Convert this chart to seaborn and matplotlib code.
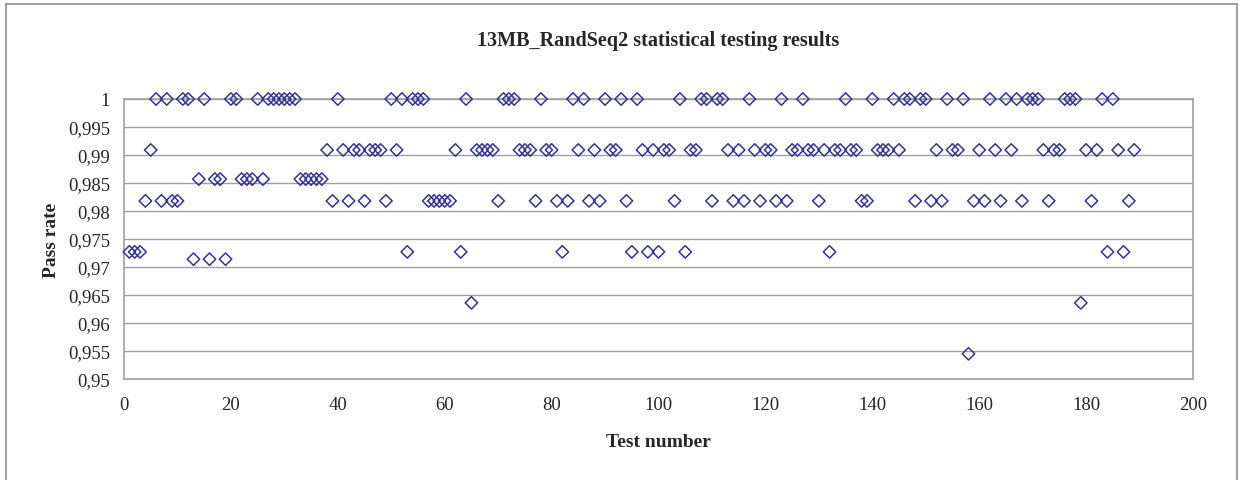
import seaborn as sns
import pandas as pd
import matplotlib.pyplot as plt
from matplotlib.patches import Rectangle

title = "13MB_RandSeq2 statistical testing results"
x_label = "Test number"
y_label = "Pass rate"

test_numbers = list(range(1, 190))
pass_rates = [
    0.9727, 0.9727, 0.9727, 0.9818, 0.9909, 1, 0.9818, 1, 0.9818, 0.9818,
    1, 1, 0.9714, 0.9857, 1, 0.9714, 0.9857, 0.9857, 0.9714, 1,
    1, 0.9857, 0.9857, 0.9857, 1, 0.9857, 1, 1, 1, 1,
    1, 1, 0.9857, 0.9857, 0.9857, 0.9857, 0.9857, 0.9909, 0.9818, 1,
    0.9909, 0.9818, 0.9909, 0.9909, 0.9818, 0.9909, 0.9909, 0.9909, 0.9818, 1,
    0.9909, 1, 0.9727, 1, 1, 1, 0.9818, 0.9818, 0.9818, 0.9818,
    0.9818, 0.9909, 0.9727, 1, 0.9636, 0.9909, 0.9909, 0.9909, 0.9909, 0.9818,
    1, 1, 1, 0.9909, 0.9909, 0.9909, 0.9818, 1, 0.9909, 0.9909,
    0.9818, 0.9727, 0.9818, 1, 0.9909, 1, 0.9818, 0.9909, 0.9818, 1,
    0.9909, 0.9909, 1, 0.9818, 0.9727, 1, 0.9909, 0.9727, 0.9909, 0.9727,
    0.9909, 0.9909, 0.9818, 1, 0.9727, 0.9909, 0.9909, 1, 1, 0.9818,
    1, 1, 0.9909, 0.9818, 0.9909, 0.9818, 1, 0.9909, 0.9818, 0.9909,
    0.9909, 0.9818, 1, 0.9818, 0.9909, 0.9909, 1, 0.9909, 0.9909, 0.9818,
    0.9909, 0.9727, 0.9909, 0.9909, 1, 0.9909, 0.9909, 0.9818, 0.9818, 1,
    0.9909, 0.9909, 0.9909, 1, 0.9909, 1, 1, 0.9818, 1, 1,
    0.9818, 0.9909, 0.9818, 1, 0.9909, 0.9909, 1, 0.9545, 0.9818, 0.9909,
    0.9818, 1, 0.9909, 0.9818, 1, 0.9909, 1, 0.9818, 1, 1,
    1, 0.9909, 0.9818, 0.9909, 0.9909, 1, 1, 1, 0.9636, 0.9909,
    0.9818, 0.9909, 1, 0.9727, 1, 0.9909, 0.9727, 0.9818, 0.9909,
]
x_ticks = [0, 20, 40, 60, 80, 100, 120, 140, 160, 180, 200]
y_ticks = [0.95, 0.955, 0.96, 0.965, 0.97, 0.975, 0.98, 0.985, 0.99, 0.995, 1.0]

df = pd.DataFrame({"test": test_numbers, "rate": pass_rates})

sns.set_style("white")
plt.rcParams["font.family"] = ["Liberation Serif", "DejaVu Serif"]

fig = plt.figure(figsize=(12.42, 4.81), dpi=100)
ax = fig.add_axes([124 / 1242, 1 - 380 / 481, (1193 - 124) / 1242, 280 / 481])

grey = "#a0a0a0"
for v in y_ticks:
    ax.axhline(v, color=grey, lw=1, zorder=0)

sns.scatterplot(data=df, x="test", y="rate", marker="D", s=40,
                facecolor="none", edgecolor="#333399", linewidth=1.1,
                ax=ax, zorder=3, clip_on=False)

ax.set_xlim(0, 200)
ax.set_ylim(0.95, 1.0)
ax.set_xticks(x_ticks)
ax.set_xticklabels([str(t) for t in x_ticks])
ax.set_yticks(y_ticks)
ax.set_yticklabels([f"{v:g}".replace(".", ",") for v in y_ticks])
ax.tick_params(axis="x", pad=7)
ax.tick_params(axis="y", pad=5)
ax.tick_params(axis="both", direction="out", length=5, width=1, color=grey,
               labelsize=13.5)
for s in ax.spines.values():
    s.set_color(grey)
    s.set_linewidth(1.2)

ax.set_xlabel(x_label, fontsize=14, fontweight="bold", labelpad=15)
ax.set_ylabel(y_label, fontsize=14, fontweight="bold", labelpad=6)
fig.text(0.5 * (124 + 1193) / 1242, 1 - 41 / 481, title, ha="center", va="center",
         fontsize=14.5, fontweight="bold")

# outer chart frame
fig.patches.append(Rectangle((6 / 1242, -0.05), (1237 - 6) / 1242, 1.05 - 5 / 481,
                             transform=fig.transFigure, fill=False,
                             edgecolor=grey, lw=1.5))

fig.savefig("out.png", dpi=100)
